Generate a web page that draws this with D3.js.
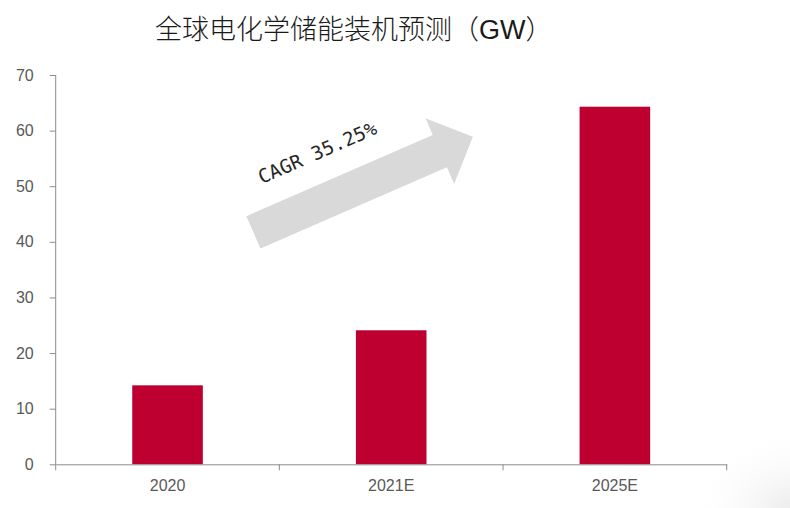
<!DOCTYPE html>
<html>
<head>
<meta charset="utf-8">
<script src="https://cdn.jsdelivr.net/npm/d3@7/dist/d3.min.js"></script>
<style>
  body { margin: 0; background: #fff; }
  svg { display: block; }
</style>
</head>
<body>
<script>
// Chart data
const categories = ["2020", "2021E", "2025E"];
const values = [14.2, 24.1, 64.3];
const yTicks = [0, 10, 20, 30, 40, 50, 60, 70];
const titleText = "全球电化学储能装机预测（GW）";
const cagrText = "CAGR 35.25%";

const W = 790, H = 508;
const margin = { top: 75, right: 63.3, bottom: 43.7, left: 55.7 },
    width = W - margin.left - margin.right,
    height = H - margin.top - margin.bottom;

const svg = d3.select("body")
    .append("svg")
    .attr("width", W)
    .attr("height", H);

// faint shading in the bottom-right corner
const defs = svg.append("defs");
const grad = defs.append("radialGradient")
    .attr("id", "corner")
    .attr("cx", 1).attr("cy", 1).attr("r", 1);
grad.append("stop").attr("offset", 0).attr("stop-color", "#ececec");
grad.append("stop").attr("offset", 1).attr("stop-color", "#ffffff").attr("stop-opacity", 0);
svg.append("rect")
    .attr("x", W - 100).attr("y", H - 80)
    .attr("width", 100).attr("height", 80)
    .attr("fill", "url(#corner)");

// title
svg.append("text")
    .attr("x", 155)
    .attr("y", 39)
    .style("font-family", "'Liberation Sans', 'Noto Sans CJK SC', sans-serif")
    .style("font-size", "27px")
    .style("font-weight", 300)
    .style("fill", "#1a1a1a")
    .text(titleText);

const g = svg.append("g")
    .attr("transform", `translate(${margin.left},${margin.top})`);

// scales
const x = d3.scaleBand()
    .domain(categories)
    .range([0, width])
    .padding(0);

const y = d3.scaleLinear()
    .domain([0, 70])
    .range([height, 0]);

const axisColor = "#8c8c8c";
const labelColor = "#595959";

// arrow annotation (placed in band / value units)
const bandPos = t => t * x.step();
const aStart = [bandPos(0.884), y(41.7)];
const aTip = [bandPos(1.865), y(58.9)];
const dx = aTip[0] - aStart[0], dy = aTip[1] - aStart[1];
const len = Math.hypot(dx, dy);
const ang = Math.atan2(dy, dx) * 180 / Math.PI;
const shaftHalf = 17.7, headHalf = 35.8, headLen = 36;

const arrow = g.append("g")
    .attr("transform", `translate(${aStart[0]},${aStart[1]}) rotate(${ang})`);

arrow.append("path")
    .attr("d", d3.line()([
        [0, -shaftHalf], [len - headLen, -shaftHalf], [len - headLen, -headHalf],
        [len, 0], [len - headLen, headHalf], [len - headLen, shaftHalf], [0, shaftHalf]
    ]) + "Z")
    .attr("fill", "#d9d9d9");

arrow.append("text")
    .attr("x", 27)
    .attr("y", -41)
    .attr("textLength", 127)
    .style("font-family", "'DejaVu Sans Mono', monospace")
    .style("font-size", "19px")
    .style("fill", "#262626")
    .text(cagrText);

// bars
const barFrac = 0.3156;
g.selectAll(".bar")
    .data(values)
    .enter()
    .append("rect")
    .attr("class", "bar")
    .attr("x", (d, i) => x(categories[i]) + x.bandwidth() * (1 - barFrac) / 2)
    .attr("y", d => y(d))
    .attr("width", x.bandwidth() * barFrac)
    .attr("height", d => y(0) - y(d))
    .attr("fill", "#be0030");

// y axis
const yAxis = g.append("g")
    .call(d3.axisLeft(y).tickValues(yTicks).tickSize(6).tickPadding(16).tickSizeOuter(0));
yAxis.select(".domain").attr("stroke", axisColor).attr("d", `M0,0V${height + 6}`);
yAxis.selectAll(".tick line").attr("stroke", axisColor);
yAxis.selectAll(".tick text")
    .attr("fill", labelColor)
    .style("font-family", "'Liberation Sans', Arial, sans-serif")
    .style("font-size", "16px");

// x axis: labels at band centres, ticks at band boundaries
const xAxis = g.append("g")
    .attr("transform", `translate(0,${height})`)
    .call(d3.axisBottom(x).tickSize(0).tickPadding(15).tickSizeOuter(0));
xAxis.select(".domain").attr("stroke", axisColor);
xAxis.selectAll(".tick text")
    .attr("fill", labelColor)
    .style("font-family", "'Liberation Sans', Arial, sans-serif")
    .style("font-size", "16px");
xAxis.selectAll(".bound")
    .data(categories)
    .enter()
    .append("line")
    .attr("class", "bound")
    .attr("x1", d => x(d) + x.bandwidth())
    .attr("x2", d => x(d) + x.bandwidth())
    .attr("y1", 0)
    .attr("y2", 6)
    .attr("stroke", axisColor);
</script>
</body>
</html>
